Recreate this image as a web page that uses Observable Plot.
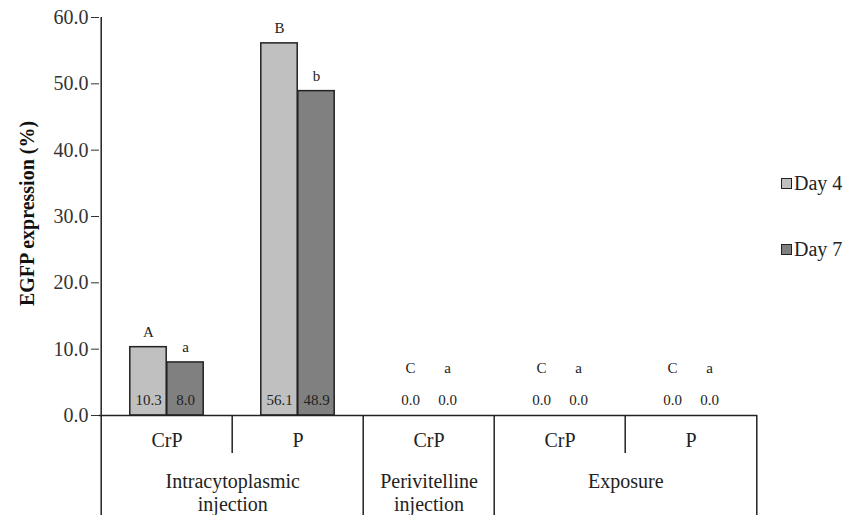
<!DOCTYPE html>
<html><head><meta charset="utf-8">
<script src="https://cdn.jsdelivr.net/npm/d3@7"></script>
<script src="https://cdn.jsdelivr.net/npm/@observablehq/plot@0.6"></script>
<style>
body{margin:0;background:#fff;}
#wrap{position:relative;width:848px;height:515px;overflow:hidden;}
#legend{position:absolute;left:781px;top:0;font-family:"Liberation Serif",serif;font-size:20px;color:#222;}
.item{position:absolute;left:0;display:flex;align-items:center;white-space:nowrap;line-height:20px;}
.sw{width:9px;height:9px;border:1.5px solid #222;margin-right:2px;}
</style></head><body><div id="wrap"><div id="legend"></div></div>
<script>
// ---- data ----
const keys = ["IC-CrP", "IC-P", "PV-CrP", "EX-CrP", "EX-P"];
const subLabels = ["CrP", "P", "CrP", "CrP", "P"];
const groupLabels = ["Intracytoplasmic\ninjection", "Perivitelline\ninjection", "Exposure"];
const groupStart = ["IC-CrP", "PV-CrP", "EX-CrP"];
const groupSpan = [2, 1, 2];
const days = ["Day 4", "Day 7"];
const day4 = [10.3, 56.1, 0.0, 0.0, 0.0];
const day7 = [8.0, 48.9, 0.0, 0.0, 0.0];
const day4Letters = ["A", "B", "C", "C", "C"];
const day7Letters = ["a", "b", "a", "a", "a"];
const yTicks = [0, 10, 20, 30, 40, 50, 60];
const dayColors = ["#c0c0c0", "#808080"];
const yLabel = "EGFP expression (%)";

// ---- layout ----
const W = 848, H = 515, mL = 99, mR = 91, mT = 17, mB = 100;
const plotH = H - mT - mB;
const bw = (W - mL - mR) / keys.length;
const barW = 37;

const rows4 = keys.map((k, i) => ({key: k, day: days[0], value: day4[i], letter: day4Letters[i]}));
const rows7 = keys.map((k, i) => ({key: k, day: days[1], value: day7[i], letter: day7Letters[i]}));
const groups = groupLabels.map((g, i) => ({label: g, start: groupStart[i], span: groupSpan[i]}));

const ink = "#222";
const fmt = d => d.toFixed(1);

function valueMarks(rows, dx) {
  return [
    Plot.text(rows, {x: "key", y: 0, text: d => fmt(d.value), dx, dy: -15, fontSize: 15, fill: ink, lineAnchor: "middle"}),
    Plot.text(rows.filter(d => d.value > 0), {x: "key", y: "value", text: "letter", dx, dy: -15, fontSize: 15, fill: ink, lineAnchor: "middle"}),
    Plot.text(rows.filter(d => d.value === 0), {x: "key", y: "value", text: "letter", dx, dy: -47, fontSize: 15, fill: ink, lineAnchor: "middle"})
  ];
}

const chart = Plot.plot({
  width: W, height: H,
  marginLeft: mL, marginRight: mR, marginTop: mT, marginBottom: mB,
  style: {fontFamily: "Liberation Serif, serif", background: "#fff", overflow: "visible"},
  x: {domain: keys, padding: 0, axis: null},
  y: {domain: [0, 60], axis: null},
  color: {domain: days, range: dayColors},
  marks: [
    Plot.barY(rows4.filter(d => d.value > 0), {x: "key", y: "value", fill: "day", stroke: ink, strokeWidth: 1.5, insetLeft: bw / 2 - barW, insetRight: bw / 2}),
    Plot.barY(rows7.filter(d => d.value > 0), {x: "key", y: "value", fill: "day", stroke: ink, strokeWidth: 1.5, insetLeft: bw / 2, insetRight: bw / 2 - barW}),
    ...valueMarks(rows4, -barW / 2),
    ...valueMarks(rows7, barW / 2),
    Plot.axisY({ticks: yTicks, tickFormat: fmt, tickSize: 8, tickPadding: 3, fontSize: 20, color: "#333", label: null}),
    Plot.text([yLabel], {frameAnchor: "left", textAnchor: "middle", dx: -72, dy: -3, rotate: -90, fontSize: 20, fontWeight: "bold", fill: "#111"}),
    Plot.ruleY([0], {stroke: ink, strokeWidth: 1.5}),
    // y-axis line + first group edge
    Plot.ruleX([keys[0]], {dx: -bw / 2, stroke: ink, strokeWidth: 1.5, insetBottom: -mB}),
    // long separators at group starts
    Plot.ruleX(keys.filter(k => groupStart.includes(k) && k !== keys[0]), {dx: -bw / 2, stroke: ink, strokeWidth: 1.5, insetTop: plotH, insetBottom: -mB}),
    // short separators inside groups
    Plot.ruleX(keys.filter(k => !groupStart.includes(k)), {dx: -bw / 2, stroke: ink, strokeWidth: 1.5, insetTop: plotH, insetBottom: -38}),
    // right end
    Plot.ruleX([keys[keys.length - 1]], {dx: bw / 2, stroke: ink, strokeWidth: 1.5, insetTop: plotH, insetBottom: -mB}),
    // sub-category labels
    Plot.text(keys, {x: d => d, text: (d, i) => subLabels[i], frameAnchor: "bottom", dy: 25, fontSize: 20, fill: ink, lineAnchor: "middle"}),
    // group labels
    Plot.text(groups.filter(g => g.span === 2), {x: "start", text: "label", frameAnchor: "bottom", dx: bw / 2, dy: 57, fontSize: 20, fill: ink, lineAnchor: "top", lineHeight: 1.12}),
    Plot.text(groups.filter(g => g.span === 1), {x: "start", text: "label", frameAnchor: "bottom", dy: 57, fontSize: 20, fill: ink, lineAnchor: "top", lineHeight: 1.12})
  ]
});
document.getElementById("wrap").prepend(chart);

// legend
const legend = document.getElementById("legend");
const legendTops = [173, 239];
days.forEach((d, i) => {
  const item = document.createElement("div");
  item.className = "item";
  item.style.top = legendTops[i] + "px";
  const sw = document.createElement("span");
  sw.className = "sw";
  sw.style.background = dayColors[i];
  const t = document.createElement("span");
  t.textContent = d;
  item.append(sw, t);
  legend.append(item);
});
</script>
</body></html>
